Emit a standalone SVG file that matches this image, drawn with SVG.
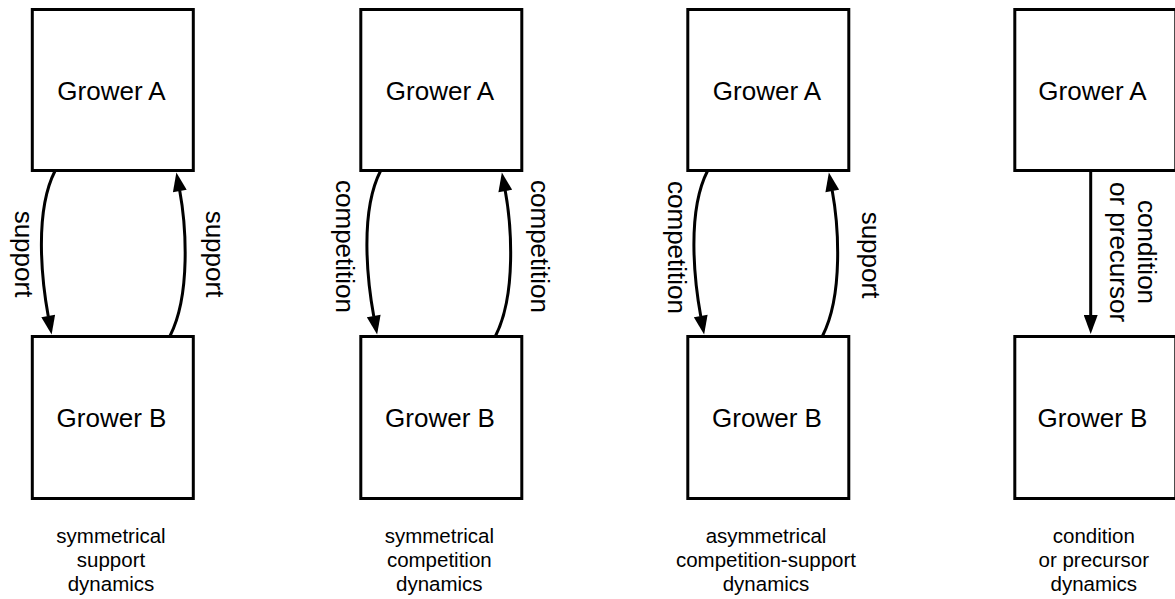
<svg xmlns="http://www.w3.org/2000/svg" width="1175" height="599" viewBox="0 0 1175 599">
  <style>
    .box { fill: #ffffff; stroke: #000000; stroke-width: 3; }
    .name { font-family: "Liberation Sans", Arial, sans-serif; font-size: 26px; fill: #000000; text-anchor: middle; }
    .edge { fill: none; stroke: #000000; stroke-width: 3; marker-end: url(#head); }
    .rel { font-family: "Liberation Sans", Arial, sans-serif; font-size: 26px; fill: #000000; text-anchor: middle; }
    .cap { font-family: "Liberation Sans", Arial, sans-serif; font-size: 20.5px; fill: #000000; text-anchor: middle; }
  </style>
  <defs>
    <marker id="head" markerUnits="userSpaceOnUse" markerWidth="20" markerHeight="14" viewBox="0 0 19 14" refX="0.5" refY="7" orient="auto">
      <path d="M0,0 L19,7 L0,14 z" fill="#000000"/>
    </marker>
  </defs>
  <rect width="1175" height="599" fill="#ffffff"/>

  <!-- panel 1: symmetrical support -->
  <g id="p1-grower-a">
    <rect class="box" x="32.3" y="9.5" width="161" height="161"/>
    <text class="name" x="111.5" y="100">Grower A</text>
  </g>
  <g id="p1-grower-b">
    <rect class="box" x="32.3" y="336.5" width="161" height="162"/>
    <text class="name" x="111.5" y="427">Grower B</text>
  </g>

  <!-- panel 2: symmetrical competition -->
  <g id="p2-grower-a">
    <rect class="box" x="360.8" y="9.5" width="161" height="161"/>
    <text class="name" x="440" y="100">Grower A</text>
  </g>
  <g id="p2-grower-b">
    <rect class="box" x="360.8" y="336.5" width="161" height="162"/>
    <text class="name" x="440" y="427">Grower B</text>
  </g>

  <!-- panel 3: asymmetrical competition-support -->
  <g id="p3-grower-a">
    <rect class="box" x="687.8" y="9.5" width="161" height="161"/>
    <text class="name" x="767" y="100">Grower A</text>
  </g>
  <g id="p3-grower-b">
    <rect class="box" x="687.8" y="336.5" width="161" height="162"/>
    <text class="name" x="767" y="427">Grower B</text>
  </g>

  <!-- panel 4: condition or precursor -->
  <g id="p4-grower-a">
    <rect class="box" x="1014.8" y="9.5" width="161" height="161"/>
    <text class="name" x="1092.5" y="100">Grower A</text>
  </g>
  <g id="p4-grower-b">
    <rect class="box" x="1014.8" y="336.5" width="161" height="162"/>
    <text class="name" x="1092.5" y="427">Grower B</text>
  </g>

  <!-- connectors -->
  <g id="connectors">
    <g id="p1-links">
      <path class="edge" d="M55,171 C34,212 42,282 48.3,316.4"/>
      <path class="edge" d="M170,336 C191,295 186,225 179.7,190.6"/>
    </g>
    <g id="p2-links" transform="translate(325.5,0)">
      <path class="edge" d="M55,171 C34,212 42,282 48.3,316.4"/>
      <path class="edge" d="M170,336 C191,295 186,225 179.7,190.6"/>
    </g>
    <g id="p3-links" transform="translate(652.5,0)">
      <path class="edge" d="M55,171 C34,212 42,282 48.3,316.4"/>
      <path class="edge" d="M170,336 C191,295 186,225 179.7,190.6"/>
    </g>
    <g id="p4-links">
      <path class="edge" d="M1090.7,171 V315.5"/>
    </g>
  </g>

  <!-- connector labels, rotated to run top to bottom -->
  <g id="link-labels">
    <text class="rel" transform="translate(14.5,254) rotate(90)">support</text>
    <text class="rel" transform="translate(205.5,254) rotate(90)">support</text>
    <text class="rel" transform="translate(336,246.5) rotate(90)">competition</text>
    <text class="rel" transform="translate(531,246.5) rotate(90)">competition</text>
    <text class="rel" transform="translate(667.5,247.5) rotate(90)">competition</text>
    <text class="rel" transform="translate(862,255) rotate(90)">support</text>
    <text class="rel" transform="translate(1138,252) rotate(90)">condition</text>
    <text class="rel" transform="translate(1110,252) rotate(90)">or precursor</text>
  </g>

  <!-- panel captions -->
  <g id="captions">
    <text class="cap" x="111" y="543">symmetrical</text>
    <text class="cap" x="111" y="567">support</text>
    <text class="cap" x="111" y="591">dynamics</text>

    <text class="cap" x="439.3" y="543">symmetrical</text>
    <text class="cap" x="439.3" y="567">competition</text>
    <text class="cap" x="439.3" y="591">dynamics</text>

    <text class="cap" x="766" y="543">asymmetrical</text>
    <text class="cap" x="766" y="567">competition-support</text>
    <text class="cap" x="766" y="591">dynamics</text>

    <text class="cap" x="1093.8" y="543">condition</text>
    <text class="cap" x="1093.8" y="567">or precursor</text>
    <text class="cap" x="1093.8" y="591">dynamics</text>
  </g>
</svg>
